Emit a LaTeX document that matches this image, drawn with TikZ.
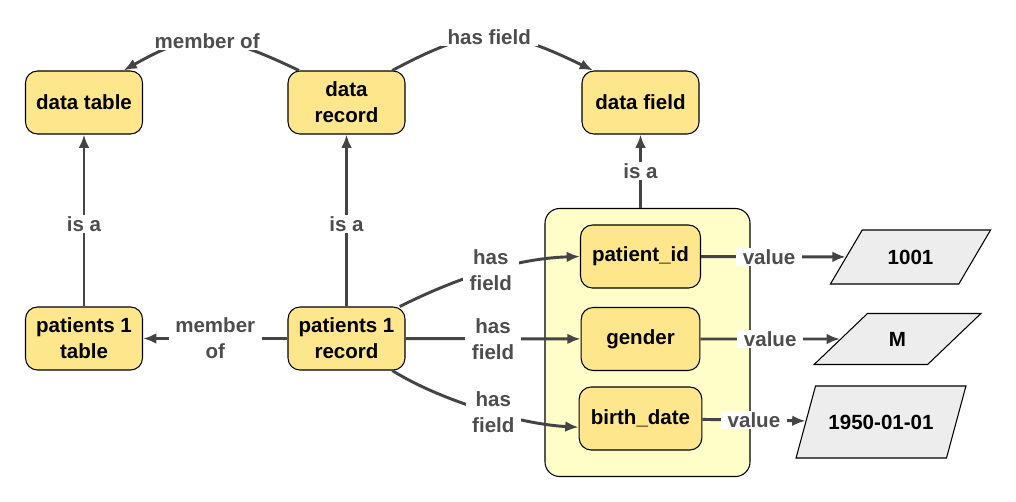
\documentclass[tikz,border=0pt]{standalone}
\usepackage{fontspec}
\setmainfont{Liberation Sans}
\usetikzlibrary{shapes.geometric,arrows.meta}
\definecolor{nodefill}{HTML}{FDE68C}
\definecolor{grpfill}{HTML}{FFFDC8}
\definecolor{valfill}{HTML}{EDEDED}
\definecolor{linec}{HTML}{444444}
\definecolor{lblc}{HTML}{4D4D4D}
\begin{document}
\begin{tikzpicture}[x=0.75pt,y=-0.75pt,
  font=\fontsize{15.4}{19.5}\selectfont\bfseries,
  ent/.style={draw=black, line width=0.8pt, fill=nodefill, rounded corners=9pt,
    minimum width=87.75pt, minimum height=47.25pt, align=center, inner sep=2pt},
  grp/.style={draw=black, line width=0.8pt, fill=grpfill, rounded corners=11pt,
    minimum width=153.75pt, minimum height=201pt, inner sep=0pt},
  val/.style={trapezium, trapezium stretches=true, draw=black, line width=0.8pt,
    fill=valfill, inner sep=0pt},
  lbl/.style={fill=white, text=lblc, align=center, inner xsep=5pt, inner ysep=1pt},
  conn/.style={draw=linec, line width=2.2pt, -{Latex[length=10pt,width=8pt]}}]
\useasboundingbox (0,0) rectangle (1016,501);

% entity nodes
\node[ent] (dtab) at (84,102.5) {data table};
\node[ent] (drec) at (346.5,102.5) {data\\record};
\node[ent] (dfld) at (640.5,102.5) {data field};
\node[ent] (ptab) at (84,338.5) {patients 1\\table};
\node[ent] (prec) at (346.5,338.5) {patients 1\\record};

% container and fields
\node[grp] (grp) at (647.5,342.5) {};
\node[ent, minimum width=90pt] (pid) at (640.5,256.5) {patient\_id};
\node[ent, minimum width=89pt] (gen) at (640.5,339) {gender};
\node[ent, minimum width=92pt] (bd) at (640.5,418.5) {birth\_date};

% values
\node[val, trapezium left angle=44, trapezium right angle=136,
  minimum width=120.75pt, minimum height=40.5pt] (v1) at (910.5,257) {1001};
\node[val, trapezium left angle=43, trapezium right angle=137,
  minimum width=125.25pt, minimum height=38.25pt] (v2) at (897.5,339) {M};
\node[val, trapezium left angle=43, trapezium right angle=137,
  minimum width=127.5pt, minimum height=54pt] (v3) at (881,422) {1950-01-01};

% top curved connectors
\draw[conn] (drec.146) .. controls +(-82,-39) and +(71,-40) ..
  node[lbl, pos=0.5] {member of} (dtab.39);
\draw[conn] (drec.35) .. controls +(83,-44) and +(-92,-45) ..
  node[lbl, pos=0.5] {has field} (dfld.146);

% is a
\draw[conn] (ptab) -- node[lbl, pos=0.48] {is a} (dtab);
\draw[conn] (prec) -- node[lbl, pos=0.48] {is a} (drec);
\draw[conn] (grp.north -| dfld.south) -- node[lbl] {is a} (dfld.south);

% member of
\draw[conn] (prec) -- node[lbl] {member\\of} (ptab);

% has field
\draw[conn] (prec.31) .. controls +(48,-24) and +(-70,2) ..
  node[lbl, pos=0.55] {has\\field} (pid.west);
\draw[conn] (prec) -- node[lbl] {has\\field} (gen);
\draw[conn] (prec.325) .. controls +(48,30) and +(-59,-3) ..
  node[lbl, pos=0.56] {has\\field} (bd.188);

% value
\draw[conn] (pid) -- node[lbl, pos=0.47] {value} (v1);
\draw[conn] (gen) -- node[lbl] {value} (v2);
\draw[conn] (bd) -- node[lbl] {value} (v3);
\end{tikzpicture}
\end{document}
